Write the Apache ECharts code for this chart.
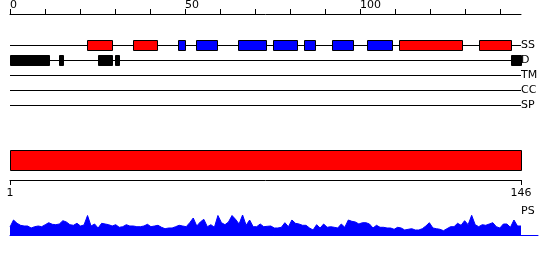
<!DOCTYPE html>
<html>
<head>
<meta charset="utf-8">
<script src="https://cdn.jsdelivr.net/npm/echarts@6/dist/echarts.min.js"></script>
<style>html,body{margin:0;padding:0;background:#fff;}#c{width:550px;height:260px;}</style>
</head>
<body>
<div id="c"></div>
<script>
// ---- data ----
const seqLength = 146;
const rulerTicks = [0, 10, 20, 30, 40, 50, 60, 70, 80, 90, 100, 110, 120, 130, 140];
const rulerLabels = [0, 50, 100];
const tracks = ['SS', 'D', 'TM', 'CC', 'SP'];
// secondary structure (residue ranges)
const helices = [[23, 29], [36, 42], [112, 129], [135, 143]];
const strands = [[49, 50], [54, 59], [66, 73], [76, 82], [85, 87], [93, 98], [103, 109]];
// disorder
const disorder = [[1, 11], [15, 15], [26, 29], [31, 31], [144, 146]];
// domains
const domains = [[1, 146]];
const domainTicks = [1, 146];
// PS profile, one value per residue 1..146
const psValues = [
  8, 15, 11.7, 9.7, 9, 9, 7, 8.3, 9, 8.3,
  10.3, 12.3, 10.7, 10.3, 11, 14.3, 13, 10.3, 9.7, 11.7,
  9, 10, 19.5, 9, 11, 7, 11.7, 11, 10.3, 9,
  10.3, 7.7, 8.3, 10.3, 9, 9, 8.3, 8.3, 9, 10.7,
  8.3, 9, 9.7, 7.7, 6.3, 7, 7, 8.3, 9.7, 9,
  8.3, 12.3, 17, 9, 13, 15.7, 8.3, 10.3, 7.7, 19.5,
  12.3, 10.3, 13, 19.5, 15.7, 11, 20, 9.7, 15, 8.3,
  8.3, 11, 8.3, 8.7, 9, 7, 7, 7.7, 12.3, 8.3,
  15, 11.7, 11, 9.7, 9.7, 7, 5, 10.3, 7, 11,
  7.7, 8.3, 7.7, 7, 11, 7.7, 15, 13.7, 13, 11,
  12.3, 12.3, 11, 7, 9.7, 7.7, 7.7, 7, 7, 5.7,
  7.7, 7, 5, 5.7, 6.3, 5, 5, 6.3, 9, 12.3,
  7, 6.3, 5.7, 4.3, 6.3, 8.3, 8.3, 11.7, 9.7, 14.3,
  10.3, 19.7, 10.3, 8.3, 10.3, 9.7, 11, 12.3, 8.3, 7,
  11, 11, 7.7, 15, 9, 9
];

// ---- layout ----
const FONT = 'DejaVu Sans';
const LEFT = 10, WIDTH = 511;
const PS_WIDTH = 528;
const psMax = 1 + PS_WIDTH * (seqLength - 1) / WIDTH;

function boxRender(fill, h) {
  return function (params, api) {
    const s = api.coord([api.value(0), api.value(2)]);
    const e = api.coord([api.value(1), api.value(2)]);
    const cy = Math.round(s[1]);
    const x0 = Math.round(s[0]) + 0.5;
    const x1 = Math.round(e[0]) + 0.5;
    return {
      type: 'rect',
      shape: { x: x0, y: cy - h / 2 + 0.5, width: x1 - x0, height: h },
      style: { fill: fill, stroke: '#000', lineWidth: 1 }
    };
  };
}
function lineRender(params, api) {
  const s = api.coord([api.value(0), api.value(2)]);
  const e = api.coord([api.value(1), api.value(2)]);
  const y = Math.round(s[1]) + 0.5;
  return {
    type: 'line',
    shape: { x1: Math.round(s[0]), y1: y, x2: Math.round(e[0]), y2: y },
    style: { stroke: '#000', lineWidth: 1 }
  };
}

const chart = echarts.init(document.getElementById('c'), null, { renderer: 'canvas' });
chart.setOption({
  animation: false,
  backgroundColor: '#fff',
  textStyle: { fontFamily: FONT },
  grid: [
    { left: LEFT, width: WIDTH, top: 37.5, height: 75 },
    { left: LEFT, width: WIDTH, top: 139, height: 41 },
    { left: LEFT, width: PS_WIDTH, top: 210, height: 25 }
  ],
  xAxis: [
    {
      gridIndex: 0, type: 'value', min: 0, max: seqLength, position: 'top', offset: 23.5,
      axisLine: { show: true, lineStyle: { color: '#000', width: 1 } },
      axisTick: { show: true, length: 5, customValues: rulerTicks, lineStyle: { color: '#000' } },
      axisLabel: { show: true, customValues: rulerLabels, align: 'left', margin: 3,
        color: '#000', fontSize: 11, fontFamily: FONT },
      splitLine: { show: false }
    },
    {
      gridIndex: 1, type: 'value', min: 1, max: seqLength, position: 'bottom',
      axisLine: { show: true, lineStyle: { color: '#000', width: 1 } },
      axisTick: { show: true, length: 5, customValues: domainTicks, lineStyle: { color: '#000' } },
      axisLabel: { show: true, customValues: domainTicks, margin: 8,
        color: '#000', fontSize: 11, fontFamily: FONT },
      splitLine: { show: false }
    },
    {
      gridIndex: 2, type: 'value', min: 1, max: psMax, position: 'bottom',
      axisLine: { show: true, lineStyle: { color: '#0000ff', width: 1 } },
      axisTick: { show: false }, axisLabel: { show: false }, splitLine: { show: false }
    }
  ],
  yAxis: [
    {
      gridIndex: 0, type: 'category', data: tracks, inverse: true, position: 'right',
      axisLine: { show: false }, axisTick: { show: false }, splitLine: { show: false },
      axisLabel: { show: true, margin: 0, align: 'left', color: '#000', fontSize: 11, fontFamily: FONT }
    },
    {
      gridIndex: 1, type: 'category', data: ['domain'],
      axisLine: { show: false }, axisTick: { show: false }, axisLabel: { show: false }, splitLine: { show: false }
    },
    {
      gridIndex: 2, type: 'value', min: 0, max: 25,
      axisLine: { show: false }, axisTick: { show: false }, axisLabel: { show: false }, splitLine: { show: false }
    }
  ],
  series: [
    {
      name: 'tracks', type: 'custom', xAxisIndex: 0, yAxisIndex: 0, z: 1,
      renderItem: lineRender, encode: { x: [0, 1], y: 2 },
      data: tracks.map((t, i) => [0, seqLength, i])
    },
    {
      name: 'helix', type: 'custom', xAxisIndex: 0, yAxisIndex: 0, z: 2,
      renderItem: boxRender('#ff0000', 10), encode: { x: [0, 1], y: 2 },
      data: helices.map(r => [r[0] - 1, r[1], 0])
    },
    {
      name: 'strand', type: 'custom', xAxisIndex: 0, yAxisIndex: 0, z: 2,
      renderItem: boxRender('#0000ff', 10), encode: { x: [0, 1], y: 2 },
      data: strands.map(r => [r[0] - 1, r[1], 0])
    },
    {
      name: 'disorder', type: 'custom', xAxisIndex: 0, yAxisIndex: 0, z: 2,
      renderItem: boxRender('#000000', 10), encode: { x: [0, 1], y: 2 },
      data: disorder.map(r => [r[0] - 1, r[1], 1])
    },
    {
      name: 'domain', type: 'custom', xAxisIndex: 1, yAxisIndex: 1, z: 2,
      renderItem: boxRender('#ff0000', 20), encode: { x: [0, 1], y: 2 },
      data: domains.map(r => [r[0], r[1], 0])
    },
    {
      name: 'PS', type: 'line', xAxisIndex: 2, yAxisIndex: 2,
      symbol: 'none', smooth: false,
      lineStyle: { color: '#0000ff', width: 1 },
      areaStyle: { color: '#0000ff', opacity: 1 },
      itemStyle: { color: '#0000ff' },
      data: psValues.map((v, i) => [i + 1, v])
    }
  ],
  graphic: [
    { type: 'text', x: 521, y: 211,
      style: { text: 'PS', fill: '#000', font: '11px "DejaVu Sans"', verticalAlign: 'middle', align: 'left' } }
  ]
});
</script>
</body>
</html>
